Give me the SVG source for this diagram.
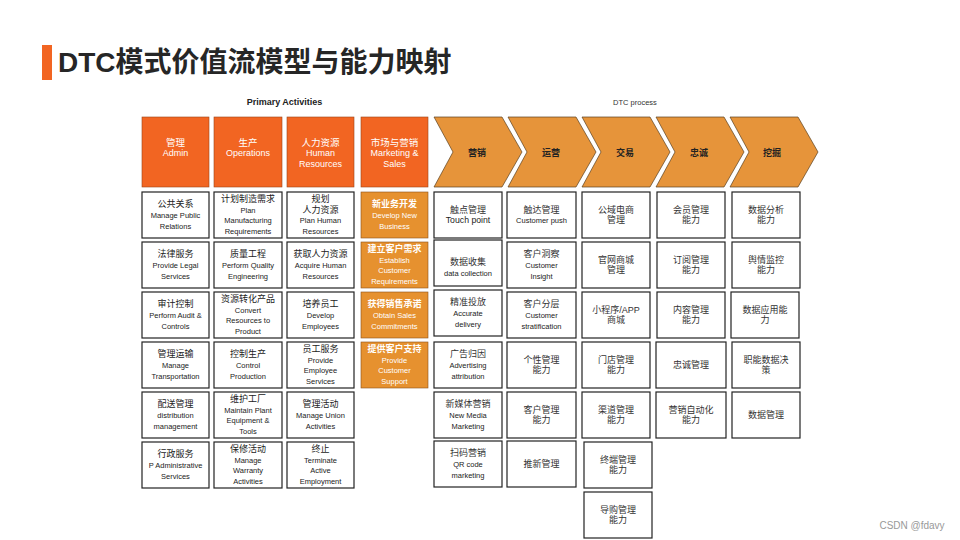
<svg xmlns="http://www.w3.org/2000/svg" width="960" height="540" viewBox="0 0 960 540">
<style>
text{font-family:"Liberation Sans","Noto Sans CJK SC",sans-serif;text-anchor:middle;fill:#222}
.hd{fill:#F26522;stroke:#9a4418;stroke-width:.6}
.ob{fill:#E6912F;stroke:#8a5218;stroke-width:.6}
.wb{fill:#fff;stroke:#222;stroke-width:1.2}
.cv{fill:#E6943A;stroke:#5a4020;stroke-width:.7}
.zh{font-size:9px}
.en{font-size:7.5px}
.hz{font-size:9.5px;fill:#fff}
.he{font-size:9px;fill:#fff}
.oz{font-size:9px;fill:#fff;font-weight:bold}
.oe{font-size:7.5px;fill:#fff}
.cl{font-size:9px;font-weight:bold}
.dz{font-size:9px;fill:#333}
</style>
<rect x="0" y="0" width="960" height="540" fill="#fff"/>
<g id="title">
<rect x="42" y="45" width="10" height="35" fill="#F26522"/>
<text x="58" y="72" style="text-anchor:start;font-size:28px;font-weight:bold;fill:#262626">DTC模式价值流模型与能力映射</text>
</g>
<text x="284.5" y="105" style="font-size:9px;font-weight:bold">Primary Activities</text>
<text x="635" y="105" style="font-size:7.5px;fill:#333">DTC process</text>

<!-- Primary activity headers -->
<g id="h-admin"><rect class="hd" x="142" y="117" width="67" height="70"/>
<text class="hz" x="175.5" y="145.5">管理</text><text class="he" x="175.5" y="156">Admin</text></g>
<g id="h-ops"><rect class="hd" x="214" y="117" width="68" height="70"/>
<text class="hz" x="248" y="145.5">生产</text><text class="he" x="248" y="156">Operations</text></g>
<g id="h-hr"><rect class="hd" x="287" y="117" width="67" height="70"/>
<text class="hz" x="320.5" y="145.5">人力资源</text><text class="he" x="320.5" y="156">Human</text><text class="he" x="320.5" y="166.5">Resources</text></g>
<g id="h-mkt"><rect class="hd" x="361" y="117" width="67" height="70"/>
<text class="hz" x="394.5" y="145.5">市场与营销</text><text class="he" x="394.5" y="156">Marketing &amp;</text><text class="he" x="394.5" y="166.5">Sales</text></g>

<!-- DTC chevrons -->
<g id="c-yingxiao"><polygon class="cv" points="434,117 502,117 522,152 502,187 434,187 453,152"/><text class="cl" x="477" y="155.5">营销</text></g>
<g id="c-yunying"><polygon class="cv" points="508,117 576,117 596,152 576,187 508,187 527,152"/><text class="cl" x="551" y="155.5">运营</text></g>
<g id="c-jiaoyi"><polygon class="cv" points="582,117 650,117 670,152 650,187 582,187 601,152"/><text class="cl" x="625" y="155.5">交易</text></g>
<g id="c-zhongcheng"><polygon class="cv" points="656,117 724,117 744,152 724,187 656,187 675,152"/><text class="cl" x="699" y="155.5">忠诚</text></g>
<g id="c-wajue"><polygon class="cv" points="730,117 798,117 818,152 798,187 730,187 749,152"/><text class="cl" x="772" y="155.5">挖掘</text></g>

<!-- Column: Admin -->
<g id="p1-1"><rect class="wb" x="142" y="192" width="67" height="46"/><text class="zh" x="175.5" y="207.2">公共关系</text><text class="en" x="175.5" y="218">Manage Public</text><text class="en" x="175.5" y="228.8">Relations</text></g>
<g id="p1-2"><rect class="wb" x="142" y="242" width="67" height="46"/><text class="zh" x="175.5" y="257.2">法律服务</text><text class="en" x="175.5" y="268">Provide Legal</text><text class="en" x="175.5" y="278.8">Services</text></g>
<g id="p1-3"><rect class="wb" x="142" y="292" width="67" height="46"/><text class="zh" x="175.5" y="307.2">审计控制</text><text class="en" x="175.5" y="318">Perform Audit &amp;</text><text class="en" x="175.5" y="328.8">Controls</text></g>
<g id="p1-4"><rect class="wb" x="142" y="342" width="67" height="46"/><text class="zh" x="175.5" y="357.2">管理运输</text><text class="en" x="175.5" y="368">Manage</text><text class="en" x="175.5" y="378.8">Transportation</text></g>
<g id="p1-5"><rect class="wb" x="142" y="392" width="67" height="46"/><text class="zh" x="175.5" y="407.2">配送管理</text><text class="en" x="175.5" y="418">distribution</text><text class="en" x="175.5" y="428.8">management</text></g>
<g id="p1-6"><rect class="wb" x="142" y="442" width="67" height="46"/><text class="zh" x="175.5" y="457.2">行政服务</text><text class="en" x="175.5" y="468">P Administrative</text><text class="en" x="175.5" y="478.8">Services</text></g>

<!-- Column: Operations -->
<g id="p2-1"><rect class="wb" x="214" y="192" width="68" height="46"/><text class="zh" x="248" y="201.8">计划制造需求</text><text class="en" x="248" y="212.6">Plan</text><text class="en" x="248" y="223.4">Manufacturing</text><text class="en" x="248" y="234.2">Requirements</text></g>
<g id="p2-2"><rect class="wb" x="214" y="242" width="68" height="46"/><text class="zh" x="248" y="257.2">质量工程</text><text class="en" x="248" y="268">Perform Quality</text><text class="en" x="248" y="278.8">Engineering</text></g>
<g id="p2-3"><rect class="wb" x="214" y="292" width="68" height="46"/><text class="zh" x="248" y="301.8">资源转化产品</text><text class="en" x="248" y="312.6">Convert</text><text class="en" x="248" y="323.4">Resources to</text><text class="en" x="248" y="334.2">Product</text></g>
<g id="p2-4"><rect class="wb" x="214" y="342" width="68" height="46"/><text class="zh" x="248" y="357.2">控制生产</text><text class="en" x="248" y="368">Control</text><text class="en" x="248" y="378.8">Production</text></g>
<g id="p2-5"><rect class="wb" x="214" y="392" width="68" height="46"/><text class="zh" x="248" y="401.8">维护工厂</text><text class="en" x="248" y="412.6">Maintain Plant</text><text class="en" x="248" y="423.4">Equipment &amp;</text><text class="en" x="248" y="434.2">Tools</text></g>
<g id="p2-6"><rect class="wb" x="214" y="442" width="68" height="46"/><text class="zh" x="248" y="451.8">保修活动</text><text class="en" x="248" y="462.6">Manage</text><text class="en" x="248" y="473.4">Warranty</text><text class="en" x="248" y="484.2">Activities</text></g>

<!-- Column: HR -->
<g id="p3-1"><rect class="wb" x="287" y="192" width="67" height="46"/><text class="zh" x="320.5" y="201.8">规划</text><text class="zh" x="320.5" y="212.6">人力资源</text><text class="en" x="320.5" y="223.4">Plan Human</text><text class="en" x="320.5" y="234.2">Resources</text></g>
<g id="p3-2"><rect class="wb" x="287" y="242" width="67" height="46"/><text class="zh" x="320.5" y="257.2">获取人力资源</text><text class="en" x="320.5" y="268">Acquire Human</text><text class="en" x="320.5" y="278.8">Resources</text></g>
<g id="p3-3"><rect class="wb" x="287" y="292" width="67" height="46"/><text class="zh" x="320.5" y="307.2">培养员工</text><text class="en" x="320.5" y="318">Develop</text><text class="en" x="320.5" y="328.8">Employees</text></g>
<g id="p3-4"><rect class="wb" x="287" y="342" width="67" height="46"/><text class="zh" x="320.5" y="351.8">员工服务</text><text class="en" x="320.5" y="362.6">Provide</text><text class="en" x="320.5" y="373.4">Employee</text><text class="en" x="320.5" y="384.2">Services</text></g>
<g id="p3-5"><rect class="wb" x="287" y="392" width="67" height="46"/><text class="zh" x="320.5" y="407.2">管理活动</text><text class="en" x="320.5" y="418">Manage Union</text><text class="en" x="320.5" y="428.8">Activities</text></g>
<g id="p3-6"><rect class="wb" x="287" y="442" width="67" height="46"/><text class="zh" x="320.5" y="451.8">终止</text><text class="en" x="320.5" y="462.6">Terminate</text><text class="en" x="320.5" y="473.4">Active</text><text class="en" x="320.5" y="484.2">Employment</text></g>

<!-- Column: Marketing & Sales -->
<g id="p4-1"><rect class="ob" x="361" y="192" width="67" height="46"/><text class="oz" x="394.5" y="207.2">新业务开发</text><text class="oe" x="394.5" y="218">Develop New</text><text class="oe" x="394.5" y="228.8">Business</text></g>
<g id="p4-2"><rect class="ob" x="361" y="242" width="67" height="46"/><text class="oz" x="394.5" y="251.8">建立客户需求</text><text class="oe" x="394.5" y="262.6">Establish</text><text class="oe" x="394.5" y="273.4">Customer</text><text class="oe" x="394.5" y="284.2">Requirements</text></g>
<g id="p4-3"><rect class="ob" x="361" y="292" width="67" height="46"/><text class="oz" x="394.5" y="307.2">获得销售承诺</text><text class="oe" x="394.5" y="318">Obtain Sales</text><text class="oe" x="394.5" y="328.8">Commitments</text></g>
<g id="p4-4"><rect class="ob" x="361" y="342" width="67" height="46"/><text class="oz" x="394.5" y="351.8">提供客户支持</text><text class="oe" x="394.5" y="362.6">Provide</text><text class="oe" x="394.5" y="373.4">Customer</text><text class="oe" x="394.5" y="384.2">Support</text></g>

<!-- DTC: 营销 -->
<g id="d1-1"><rect class="wb" x="434" y="192" width="68" height="46"/><text class="dz" x="468" y="212.6">触点管理</text><text x="468" y="223.4" style="font-size:8.7px">Touch point</text></g>
<g id="d1-2"><rect class="wb" x="434" y="240" width="68" height="46"/><text class="dz" x="468" y="265.4">数据收集</text><text class="en" x="468" y="276">data collection</text></g>
<g id="d1-3"><rect class="wb" x="434" y="290" width="68" height="46"/><text class="dz" x="468" y="305.2">精准投放</text><text class="en" x="468" y="316">Accurate</text><text class="en" x="468" y="326.8">delivery</text></g>
<g id="d1-4"><rect class="wb" x="434" y="342" width="68" height="46"/><text class="dz" x="468" y="357.2">广告归因</text><text class="en" x="468" y="368">Advertising</text><text class="en" x="468" y="378.8">attribution</text></g>
<g id="d1-5"><rect class="wb" x="434" y="392" width="68" height="46"/><text class="dz" x="468" y="407.2">新媒体营销</text><text class="en" x="468" y="418">New Media</text><text class="en" x="468" y="428.8">Marketing</text></g>
<g id="d1-6"><rect class="wb" x="434" y="441" width="68" height="46"/><text class="dz" x="468" y="456.2">扫码营销</text><text class="en" x="468" y="467">QR code</text><text class="en" x="468" y="477.8">marketing</text></g>

<!-- DTC: 运营 -->
<g id="d2-1"><rect class="wb" x="507" y="192" width="69" height="46"/><text class="dz" x="541.5" y="212.6">触达管理</text><text class="en" x="541.5" y="223.4">Customer push</text></g>
<g id="d2-2"><rect class="wb" x="507" y="242" width="69" height="46"/><text class="dz" x="541.5" y="257.2">客户洞察</text><text class="en" x="541.5" y="268">Customer</text><text class="en" x="541.5" y="278.8">Insight</text></g>
<g id="d2-3"><rect class="wb" x="507" y="292" width="69" height="46"/><text class="dz" x="541.5" y="307.2">客户分层</text><text class="en" x="541.5" y="318">Customer</text><text class="en" x="541.5" y="328.8">stratification</text></g>
<g id="d2-4"><rect class="wb" x="507" y="342" width="69" height="46"/><text class="dz" x="541.5" y="362.6">个性管理</text><text class="dz" x="541.5" y="373.4">能力</text></g>
<g id="d2-5"><rect class="wb" x="507" y="392" width="69" height="46"/><text class="dz" x="541.5" y="412.6">客户管理</text><text class="dz" x="541.5" y="423.4">能力</text></g>
<g id="d2-6"><rect class="wb" x="507" y="441" width="69" height="46"/><text class="dz" x="541.5" y="467.2">推新管理</text></g>

<!-- DTC: 交易 -->
<g id="d3-1"><rect class="wb" x="582" y="192" width="68" height="46"/><text class="dz" x="616" y="212.6">公域电商</text><text class="dz" x="616" y="223.4">管理</text></g>
<g id="d3-2"><rect class="wb" x="582" y="242" width="68" height="46"/><text class="dz" x="616" y="262.6">官网商城</text><text class="dz" x="616" y="273.4">管理</text></g>
<g id="d3-3"><rect class="wb" x="582" y="292" width="68" height="46"/><text class="dz" x="616" y="312.6">小程序/APP</text><text class="dz" x="616" y="323.4">商城</text></g>
<g id="d3-4"><rect class="wb" x="582" y="342" width="68" height="46"/><text class="dz" x="616" y="362.6">门店管理</text><text class="dz" x="616" y="373.4">能力</text></g>
<g id="d3-5"><rect class="wb" x="582" y="392" width="68" height="46"/><text class="dz" x="616" y="412.6">渠道管理</text><text class="dz" x="616" y="423.4">能力</text></g>
<g id="d3-6"><rect class="wb" x="584" y="442" width="68" height="46"/><text class="dz" x="618" y="462.6">终端管理</text><text class="dz" x="618" y="473.4">能力</text></g>
<g id="d3-7"><rect class="wb" x="584" y="492" width="68" height="46"/><text class="dz" x="618" y="512.6">导购管理</text><text class="dz" x="618" y="523.4">能力</text></g>

<!-- DTC: 忠诚 -->
<g id="d4-1"><rect class="wb" x="657" y="192" width="68" height="46"/><text class="dz" x="691" y="212.6">会员管理</text><text class="dz" x="691" y="223.4">能力</text></g>
<g id="d4-2"><rect class="wb" x="657" y="242" width="68" height="46"/><text class="dz" x="691" y="262.6">订阅管理</text><text class="dz" x="691" y="273.4">能力</text></g>
<g id="d4-3"><rect class="wb" x="657" y="292" width="68" height="46"/><text class="dz" x="691" y="312.6">内容管理</text><text class="dz" x="691" y="323.4">能力</text></g>
<g id="d4-4"><rect class="wb" x="656" y="342" width="70" height="46"/><text class="dz" x="691" y="368.2">忠诚管理</text></g>
<g id="d4-5"><rect class="wb" x="656" y="392" width="70" height="46"/><text class="dz" x="691" y="412.6">营销自动化</text><text class="dz" x="691" y="423.4">能力</text></g>

<!-- DTC: 挖掘 -->
<g id="d5-1"><rect class="wb" x="732" y="192" width="68" height="46"/><text class="dz" x="766" y="212.6">数据分析</text><text class="dz" x="766" y="223.4">能力</text></g>
<g id="d5-2"><rect class="wb" x="732" y="242" width="68" height="46"/><text class="dz" x="766" y="262.6">舆情监控</text><text class="dz" x="766" y="273.4">能力</text></g>
<g id="d5-3"><rect class="wb" x="731" y="292" width="68" height="46"/><text class="dz" x="765" y="312.6">数据应用能</text><text class="dz" x="765" y="323.4">力</text></g>
<g id="d5-4"><rect class="wb" x="732" y="342" width="68" height="46"/><text class="dz" x="766" y="362.6">职能数据决</text><text class="dz" x="766" y="373.4">策</text></g>
<g id="d5-5"><rect class="wb" x="732" y="392" width="68" height="46"/><text class="dz" x="766" y="418.2">数据管理</text></g>

<g id="connectors"></g>
<text x="912" y="528.5" style="font-size:10px;fill:#999">CSDN @fdavy</text>
</svg>
